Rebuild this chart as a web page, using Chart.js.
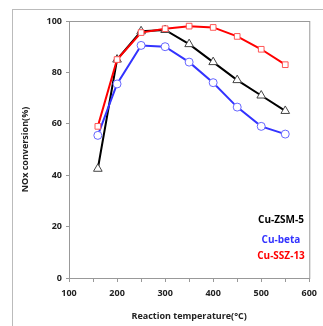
<!DOCTYPE html>
<html>
<head>
<meta charset="UTF-8">
<title>NOx conversion</title>
<script src="https://cdn.jsdelivr.net/npm/chart.js"></script>
<style>
  html, body { margin: 0; padding: 0; background: #fff; }
  #wrap { width: 323px; height: 326px; position: relative; }
</style>
</head>
<body>
<div id="wrap"><canvas id="noxChart"></canvas></div>
<script>
// reaction temperature (°C)
const temps = [160, 200, 250, 300, 350, 400, 450, 500, 550];
// NOx conversion (%)
const cuZsm5 = [42.5, 85, 96, 96.5, 91, 84, 77, 71, 65];
const cuBeta = [55.5, 75.5, 90.5, 90, 84, 76, 66.5, 59, 56];
const cuSsz13 = [59, 85, 95.5, 97, 98, 97.5, 94, 89, 83];
const legendNames = ['Cu-ZSM-5', 'Cu-beta', 'Cu-SSZ-13'];
const legendColors = ['#000000', '#3333ff', '#ff0000'];

function pts(vals) {
    return temps.map((t, i) => ({ x: t, y: vals[i] }));
}

const tickFont = { family: 'Open Sans', size: 9, weight: 'bold' };

// outer frame + plot box
const framePlugin = {
    id: 'frame',
    beforeDraw(chart) {
        const c = chart.ctx, a = chart.chartArea;
        c.save();
        c.strokeStyle = '#bbbbbb';
        c.lineWidth = 1;
        c.strokeRect(12.5, 9.5, 330, 340);
        c.strokeStyle = '#999999';
        c.strokeRect(a.left + 0.5, a.top + 0.5, a.right - a.left, a.bottom - a.top);
        c.restore();
    }
};

// text legend inside the plot
const labelPlugin = {
    id: 'textLegend',
    afterDraw(chart) {
        const c = chart.ctx;
        c.save();
        c.font = 'bold 10px "Open Sans"';
        c.textAlign = 'center';
        c.textBaseline = 'middle';
        const ys = [220, 240, 256];
        legendNames.forEach((n, i) => {
            c.fillStyle = legendColors[i];
            c.fillText(n, 281, ys[i]);
        });
        c.restore();
    }
};

new Chart(document.getElementById('noxChart'), {
    type: 'line',
    data: {
        datasets: [
            { label: 'Cu-SSZ-13', data: pts(cuSsz13), borderColor: '#ff0000', borderWidth: 2,
              pointStyle: 'rect', pointRadius: 4, pointBorderWidth: 1, pointBorderColor: '#ff5555', pointBackgroundColor: '#ffffff' },
            { label: 'Cu-beta', data: pts(cuBeta), borderColor: '#3333ff', borderWidth: 2,
              pointStyle: 'circle', pointRadius: 4, pointBorderWidth: 1, pointBorderColor: '#6666ff', pointBackgroundColor: '#ffffff' },
            { label: 'Cu-ZSM-5', data: pts(cuZsm5), borderColor: '#000000', borderWidth: 2,
              pointStyle: 'triangle', pointRadius: 5, pointBorderWidth: 1, pointBorderColor: '#444444', pointBackgroundColor: '#ffffff' }
        ]
    },
    options: {
        responsive: true,
        maintainAspectRatio: false,
        animation: false,
        layout: { padding: { top: 21, right: 6, left: 0, bottom: 0 } },
        plugins: { legend: { display: false }, tooltip: { enabled: false } },
        scales: {
            x: {
                type: 'linear', min: 100, max: 600,
                afterFit(s) { s.height = 48; },
                border: { color: '#999999' },
                grid: { drawOnChartArea: false, tickLength: 4, color: '#999999' },
                ticks: { stepSize: 50, autoSkip: false, maxRotation: 0, color: '#222222', font: tickFont, padding: 6,
                         callback: v => (v % 100 === 0 ? v : '') },
                title: { display: true, text: 'Reaction temperature(°C)', color: '#222222',
                         font: { family: 'Open Sans', size: 9, weight: 'bold' }, padding: { top: 2 } }
            },
            y: {
                min: 0, max: 100,
                afterFit(s) { s.width = 69; },
                border: { color: '#999999' },
                grid: { drawOnChartArea: false, tickLength: 3, color: '#999999' },
                ticks: { stepSize: 20, color: '#222222', font: tickFont, padding: 4 },
                title: { display: true, text: 'NOx conversion(%)', color: '#222222',
                         font: { family: 'Open Sans', size: 9, weight: 'bold' }, padding: { top: 20, bottom: 0 } }
            }
        }
    },
    plugins: [framePlugin, labelPlugin]
});
</script>
</body>
</html>
